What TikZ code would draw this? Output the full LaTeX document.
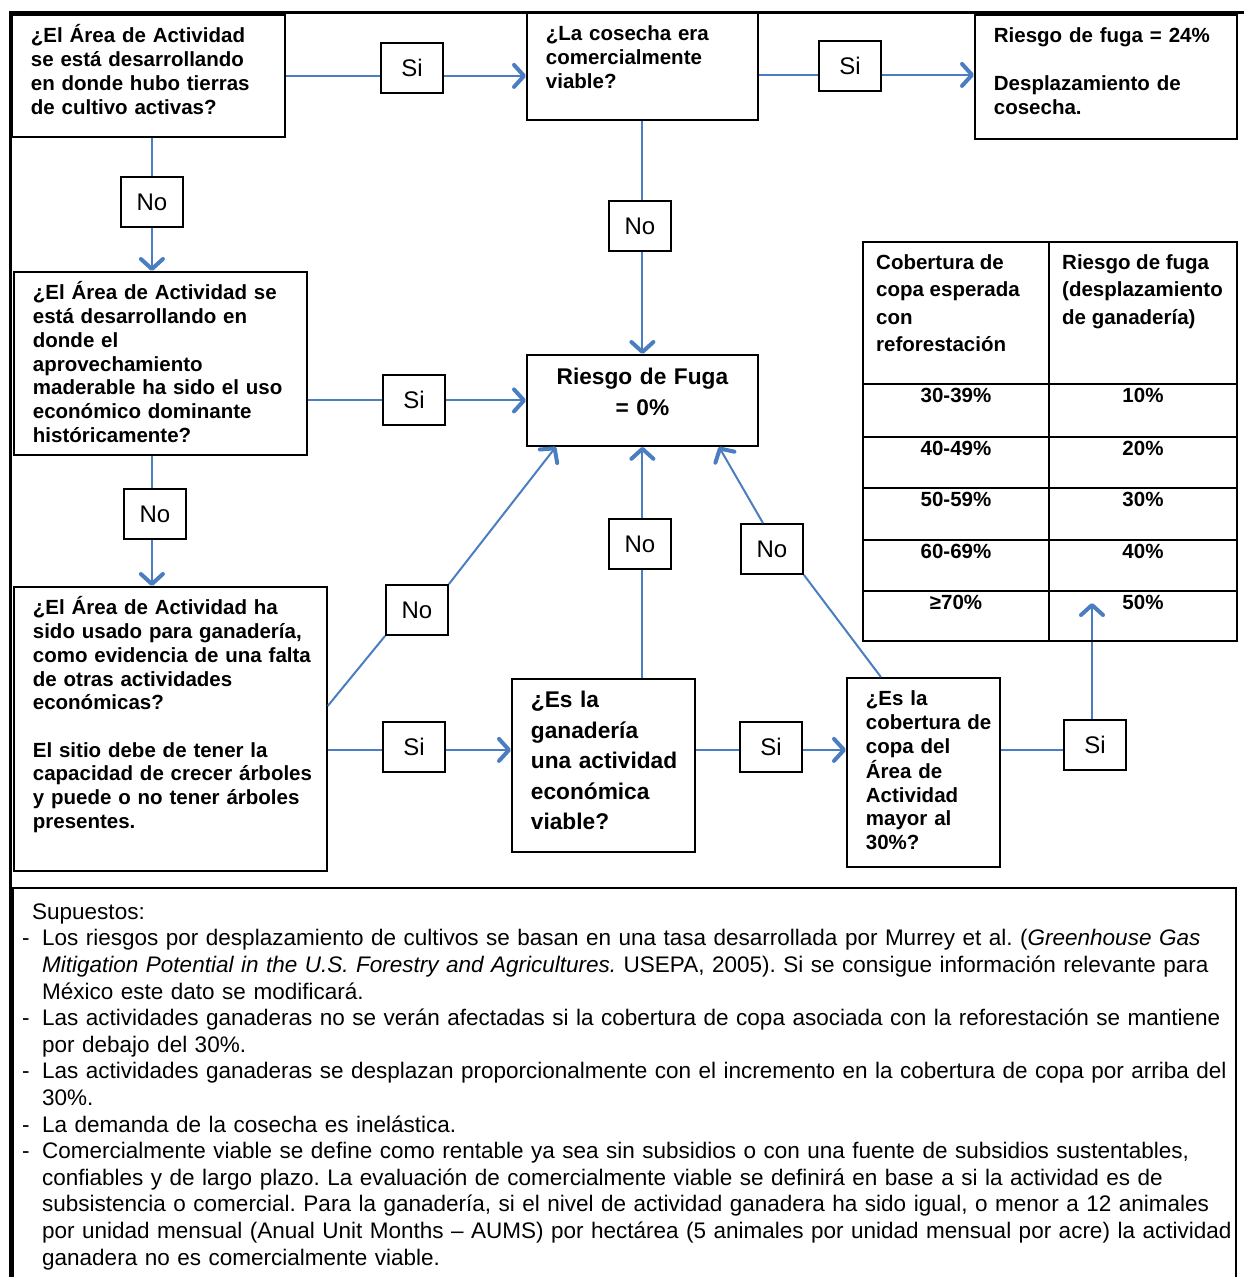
\documentclass[tikz,border=0pt]{standalone}
\usepackage{fontspec}
\setmainfont{Liberation Sans}
\usetikzlibrary{arrows.meta,positioning,calc}
\definecolor{flecha}{RGB}{74,126,193}
\frenchspacing
\newcommand{\lineas}[1]{\begin{tabular}[t]{@{}l@{}}#1\end{tabular}}
\newcommand{\centro}[1]{\begin{tabular}[t]{@{}c@{}}#1\end{tabular}}
\newcommand{\guion}{\par\hangindent=20pt\hangafter=1\noindent\makebox[20pt][l]{-}}

\begin{document}
\begin{tikzpicture}[x=1pt,y=-1pt,
    caja/.style={draw,line width=1.8pt,anchor=north west,inner xsep=19pt,inner ysep=0pt,text height=28pt,font=\bfseries\fontsize{20.5}{23.7}\selectfont},
    grande/.style={caja,font=\bfseries\fontsize{22.7}{30.5}\selectfont},
    resp/.style={draw,line width=1.8pt,fill=white,minimum width=62pt,minimum height=50pt,inner sep=0pt,font=\fontsize{24}{28}\selectfont},
    ln/.style={draw=flecha,line width=2pt},
    arr/.style={ln,-{Straight Barb[length=10pt,width=22pt,line width=4pt,round]}},
    celda/.style={inner sep=0pt,font=\bfseries\fontsize{20.5}{27.5}\selectfont}]
    \useasboundingbox (0,0) rectangle (1244,1277);
    \clip (0,0) rectangle (1244,1277);
    \draw[line width=3pt] (10,1300) -- (10,12) -- (1260,12);

    \node[caja,text width=235pt,text depth=94pt] (a) at (11,14) {\lineas{¿El Área de Actividad\\se está desarrollando\\en donde hubo tierras\\de cultivo activas?}};
    \node[caja,text width=193pt,text depth=79pt] (b) at (526,12) {\lineas{¿La cosecha era\\comercialmente\\viable?}};
    \node[caja,text width=224pt,text depth=96pt] (c) at (974,14) {\lineas{Riesgo de fuga = 24\%\\ \\Desplazamiento de\\cosecha.}};
    \node[caja,text width=255pt,text depth=155pt] (d) at (13,271) {\lineas{¿El Área de Actividad se\\está desarrollando en\\donde el\\aprovechamiento\\maderable ha sido el uso\\económico dominante\\históricamente?}};
    \node[grande,align=center,text width=193pt,text height=30pt,text depth=61pt] (r) at (526,354) {\centro{Riesgo de Fuga\\= 0\%}};
    \node[caja,text width=275pt,text depth=256pt] (e) at (13,586) {\lineas{¿El Área de Actividad ha\\sido usado para ganadería,\\como evidencia de una falta\\de otras actividades\\económicas?\\ \\El sitio debe de tener la\\capacidad de crecer árboles\\y puede o no tener árboles\\presentes.}};
    \node[grande,text width=145pt,text height=29pt,text depth=144pt] (g) at (511,678) {\lineas{¿Es la\\ganadería\\una actividad\\económica\\viable?}};
    \node[caja,text width=115pt,text depth=161pt] (v) at (846,677) {\lineas{¿Es la\\cobertura de\\copa del\\Área de\\Actividad\\mayor al\\30\%?}};

    \node[resp] (s1) at (412,68) {Si};
    \node[resp] (s2) at (850,66) {Si};
    \node[resp] (n1) at (152,202) {No};
    \node[resp] (n2) at (640,226) {No};
    \node[resp] (s3) at (414,400) {Si};
    \node[resp] (n3) at (155,514) {No};
    \node[resp] (n4) at (417,610) {No};
    \node[resp] (s4) at (414,747) {Si};
    \node[resp] (n5) at (640,544) {No};
    \node[resp] (s5) at (771,747) {Si};
    \node[resp] (n6) at (772,549) {No};
    \node[resp] (s6) at (1095,745) {Si};

    \draw[ln] (a.east) -- (a.east -| s1.west);
    \draw[arr] (a.east -| s1.east) -- (a.east -| b.west);
    \coordinate (bc) at ([yshift=-8.5pt]b.east);
    \draw[ln] (bc) -- (bc -| s2.west);
    \draw[arr] (bc -| s2.east) -- (bc -| c.west);
    \coordinate (ad) at ([xshift=3.5pt]a.south);
    \draw[ln] (ad) -- (ad |- n1.north);
    \draw[arr] (ad |- n1.south) -- (ad |- d.north);
    \draw[ln] (b.south) -- (b.south |- n2.north);
    \draw[arr] (b.south |- n2.south) -- (r.north);
    \draw[ln] (d.east |- r.west) -- (s3.west |- r.west);
    \draw[arr] (s3.east |- r.west) -- (r.west);
    \coordinate (de) at ([xshift=-8.5pt]d.south);
    \draw[ln] (de) -- (de |- n3.north);
    \draw[arr] (de |- n3.south) -- (de |- e.north);
    \draw[ln] ([yshift=23pt]e.east) -- (n4.south west);
    \draw[arr] (n4.north east) -- ([xshift=-86.5pt]r.south);
    \coordinate (eg) at ([yshift=-21pt]e.east);
    \draw[ln] (eg) -- (eg -| s4.west);
    \draw[arr] (eg -| s4.east) -- (eg -| g.west);
    \draw[ln] (r.south |- g.north) -- (r.south |- n5.south);
    \draw[arr] (r.south |- n5.north) -- (r.south);
    \coordinate (gv) at ([yshift=15.5pt]g.east);
    \draw[ln] (gv) -- (gv -| s5.west);
    \draw[arr] (gv -| s5.east) -- (gv -| v.west);
    \draw[ln] ([xshift=-42.5pt]v.north) -- (n6.south east);
    \draw[arr] ([xshift=-9pt]n6.north) -- ([xshift=76.5pt]r.south);
    \coordinate (vt) at ([yshift=22.5pt]v.east);
    \coordinate (tip) at (1092,603);
    \draw[ln] (vt) -- (vt -| s6.west);
    \draw[arr] (s6.north -| tip) -- (tip);

    \draw[line width=1.8pt] (863,242) rectangle (1237,641);
    \draw[line width=1.8pt] (1049,242) -- (1049,641);
    \foreach \y in {384,437,488,540,591}
        \draw[line width=1.8pt] (863,\y) -- (1237,\y);
    \node[celda,anchor=north west,text height=27pt] (t1) at (876,242) {\lineas{Cobertura de\\copa esperada\\con\\reforestación}};
    \node[celda,anchor=north west,text height=27pt] (t2) at (1062,242) {\lineas{Riesgo de fuga\\(desplazamiento\\de ganadería)}};
    \foreach \y/\p/\q [count=\i] in {384/30-39\%/10\%,437/40-49\%/20\%,488/50-59\%/30\%,540/60-69\%/40\%,591/≥70\%/50\%} {
        \node[celda,anchor=base] (p\i) at (956,\y+18) {\p};
        \node[celda,anchor=base] (q\i) at (1143,\y+18) {\q};
    }

    \draw[line width=1.8pt] (13,888) rectangle (1236,1300);
    \node[anchor=north west,inner sep=0pt,text width=1300pt,text height=31pt,font=\fontsize{22.5}{26.6}\selectfont] (nota) at (22,888) {%
        \hspace*{10pt}Supuestos:
        \guion Los riesgos por desplazamiento de cultivos se basan en una tasa desarrollada por Murrey et al. (\textit{Greenhouse Gas}\newline
        \textit{Mitigation Potential in the U.S. Forestry and Agricultures.} USEPA, 2005). Si se consigue información relevante para\newline
        México este dato se modificará.
        \guion Las actividades ganaderas no se verán afectadas si la cobertura de copa asociada con la reforestación se mantiene\newline
        por debajo del 30\%.
        \guion Las actividades ganaderas se desplazan proporcionalmente con el incremento en la cobertura de copa por arriba del\newline
        30\%.
        \guion La demanda de la cosecha es inelástica.
        \guion Comercialmente viable se define como rentable ya sea sin subsidios o con una fuente de subsidios sustentables,\newline
        confiables y de largo plazo. La evaluación de comercialmente viable se definirá en base a si la actividad es de\newline
        subsistencia o comercial. Para la ganadería, si el nivel de actividad ganadera ha sido igual, o menor a 12 animales\newline
        por unidad mensual (Anual Unit Months – AUMS) por hectárea (5 animales por unidad mensual por acre) la actividad\newline
        ganadera no es comercialmente viable.\par};
\end{tikzpicture}
\end{document}
